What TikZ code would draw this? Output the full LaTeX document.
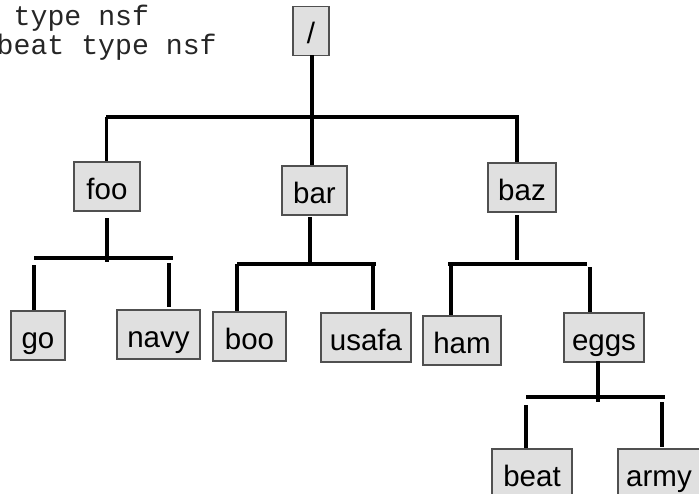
\documentclass[tikz,border=0pt]{standalone}
\usepackage{fontspec}
\setmainfont{Liberation Sans}
\newfontfamily\monofnt{Liberation Mono}
\definecolor{boxfill}{HTML}{E0E0E0}
\definecolor{boxline}{HTML}{505050}
\tikzset{
  fsbox/.style={draw=boxline, fill=boxfill, line width=1.2pt, inner sep=0pt,
    minimum height=49pt, text height=25pt, text depth=0pt,
    font=\fontsize{29.5}{31}\selectfont},
  conn/.style={line width=3.6pt, black},
  cmdtext/.style={anchor=base west, inner sep=0pt, text=black!85,
    font=\monofnt\fontsize{28.2}{30}\selectfont}
}
\begin{document}
\begin{tikzpicture}[x=1pt,y=-1pt]
\useasboundingbox (0,0) rectangle (699,493);
\clip (0,0) rectangle (699,493);
% command text
\node[cmdtext] (cmd1) at (13.5,25) {type nsf};
\node[cmdtext] (cmd2) at (-3.5,54) {beat type nsf};
% boxes
\node[fsbox, minimum width=36pt] (root) at (311,31) {/};
\node[fsbox, minimum width=66pt] (foo) at (107,186.5) {foo};
\node[fsbox, minimum width=65pt] (bar) at (314.5,190.5) {bar};
\node[fsbox, minimum width=68pt] (baz) at (522,187.5) {baz};
\node[fsbox, minimum width=54pt] (go) at (38,335.5) {go};
\node[fsbox, minimum width=83pt] (navy) at (158.5,334.5) {navy};
\node[fsbox, minimum width=73pt] (boo) at (249.5,336.5) {boo};
\node[fsbox, minimum width=90pt] (usafa) at (366,337.5) {usafa};
\node[fsbox, minimum width=78pt] (ham) at (462,340.5) {ham};
\node[fsbox, minimum width=80pt] (eggs) at (604,337.5) {eggs};
\node[fsbox, minimum width=80pt] (beat) at (532,473.5) {beat};
\node[fsbox, minimum width=82pt] (army) at (659,473.5) {army};
% junction bars
\coordinate (h1l) at (106,117); \coordinate (h1r) at (519,117);
\coordinate (h2l) at (34,258);  \coordinate (h2r) at (173,258);
\coordinate (h3l) at (237,264); \coordinate (h3r) at (376,264);
\coordinate (h4l) at (448,264); \coordinate (h4r) at (587,264);
\coordinate (h5l) at (526,397); \coordinate (h5r) at (665,397);
\draw[conn] (h1l) -- (h1r);
\draw[conn] (h2l) -- (h2r);
\draw[conn] (h3l) -- (h3r);
\draw[conn] (h4l) -- (h4r);
\draw[conn] (h5l) -- (h5r);
% level 1
\coordinate (r0) at (312,55);
\draw[conn] (r0) -- (r0 |- h1l);
\draw[conn] ([xshift=-0.5pt]foo.north |- h1l) -- ([xshift=-0.5pt]foo.north);
\draw[conn] ([xshift=-2.5pt]bar.north |- h1l) -- ([xshift=-2.5pt]bar.north);
\draw[conn] ([xshift=-5pt]baz.north |- h1l) -- ([xshift=-5pt]baz.north);
% foo children
\coordinate (f0) at (107,218); \coordinate (f1) at (107,262);
\draw[conn] (f0) -- (f1);
\coordinate (g0) at (34,265);
\draw[conn] (g0) -- (g0 |- go.north);
\coordinate (n0) at (169,263); \coordinate (n1) at (169,307);
\draw[conn] (n0) -- (n1);
% bar children
\coordinate (b0) at (310,217);
\draw[conn] (b0) -- (b0 |- h3l);
\draw[conn] (h3l) -- (h3l |- boo.north);
\coordinate (u0) at (373,264); \coordinate (u1) at (373,310);
\draw[conn] (u0) -- (u1);
% baz children
\coordinate (z0) at (517,215); \coordinate (z1) at (517,260);
\draw[conn] (z0) -- (z1);
\coordinate (m0) at (451,264);
\draw[conn] (m0) -- (m0 |- ham.north);
\coordinate (e0) at (590,267);
\draw[conn] (e0) -- (e0 |- eggs.north);
% eggs children
\coordinate (s0) at (598,361); \coordinate (s1) at (598,402);
\draw[conn] (s0) -- (s1);
\coordinate (t0) at (526,405);
\draw[conn] (t0) -- (t0 |- beat.north);
\coordinate (a0) at (662,402); \coordinate (a1) at (662,447);
\draw[conn] (a0) -- (a1);
\end{tikzpicture}
\end{document}
